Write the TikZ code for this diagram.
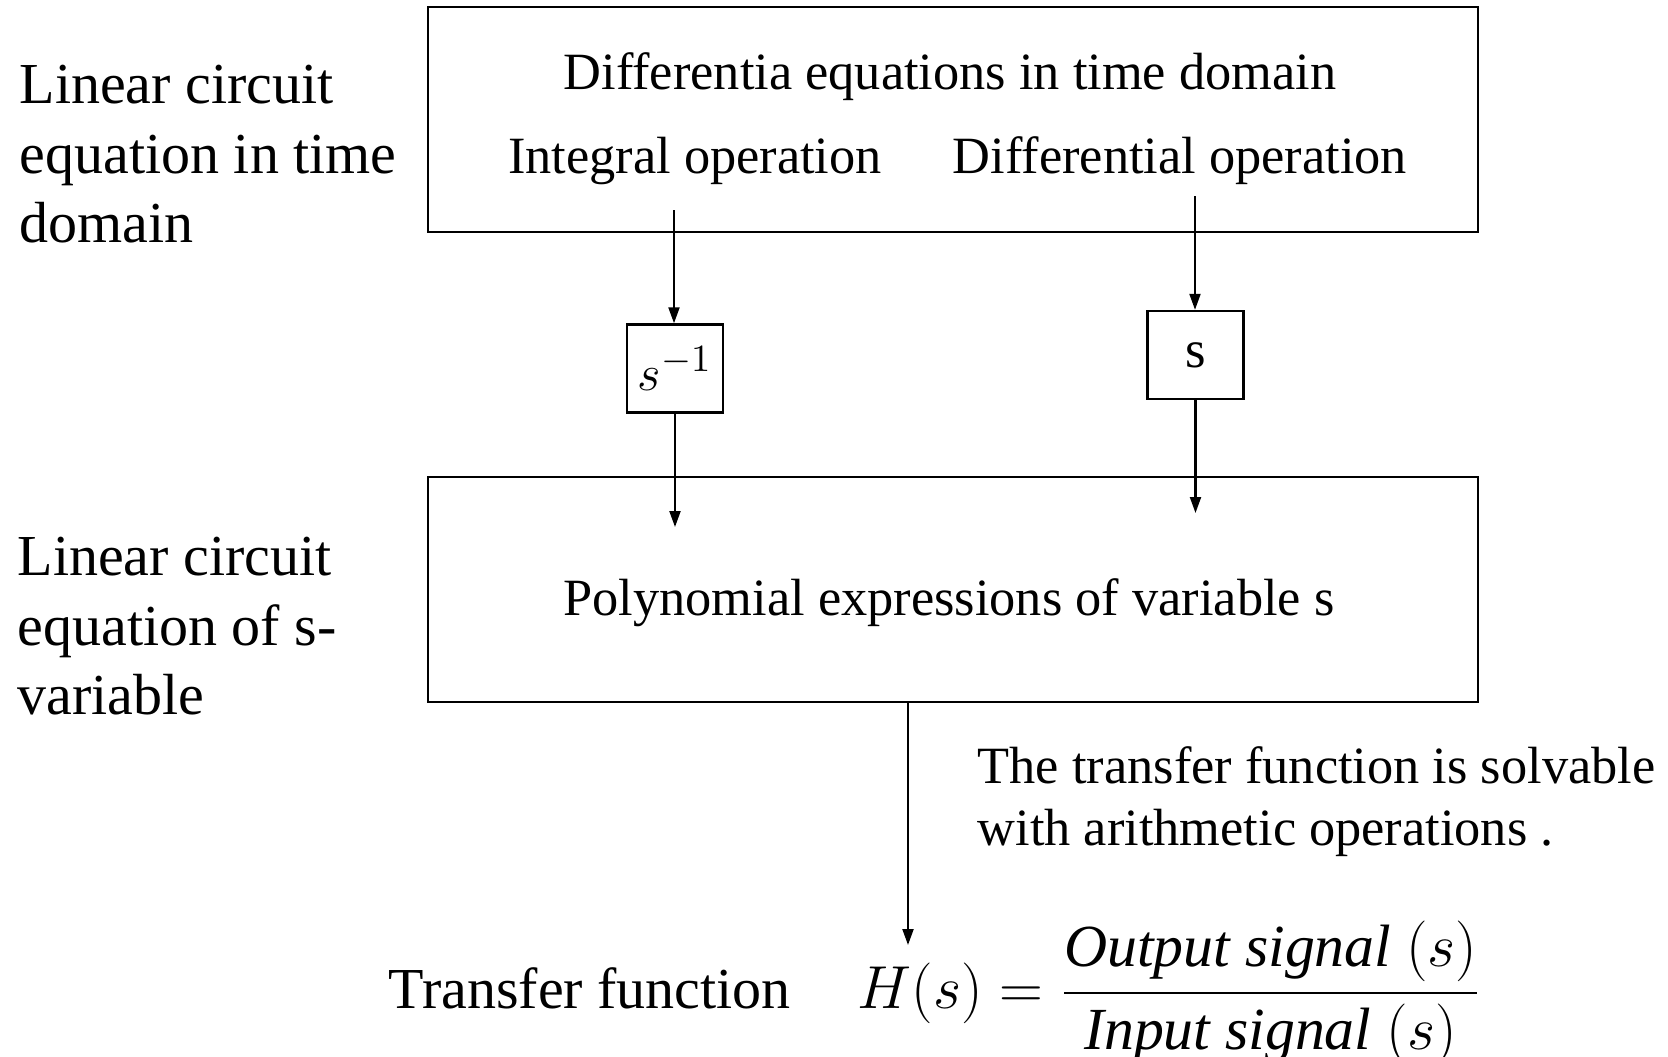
\documentclass[tikz,border=0pt]{standalone}
\usepackage{amsmath}
\usepackage{fontspec}
\setmainfont{Liberation Serif}
\usetikzlibrary{arrows.meta}
\newcommand{\widthstage}{10.5cm}
\newcommand{\heightstage}{2.25cm}
\newcommand{\widthop}{0.96cm}
\tikzset{
    common/.style={draw, rectangle, line width=0.7pt, inner sep=0pt},
    stage/.style={common, minimum width=\widthstage, minimum height=\heightstage},
    op/.style={common, minimum width=\widthop, minimum height=0.88cm, font=\fontsize{15}{18}\selectfont},
    boxtext/.style={anchor=base, inner sep=0pt, font=\fontsize{14.9}{18}\selectfont},
    sidetext/.style={anchor=north west, inner sep=0pt, align=left, font=\fontsize{16.5}{19.9}\selectfont},
    notetext/.style={anchor=north west, inner sep=0pt, align=left, font=\fontsize{14.9}{17.6}\selectfont},
    flow/.style={->, line width=0.6pt},
    >={Triangle[length=1.6mm, width=1.1mm]}
}

\begin{document}
\begin{tikzpicture}
    \useasboundingbox (0,0) rectangle (16.68,-10.56);

    \node[sidetext] (timelabel) at (0.19,-0.64) {Linear circuit\\equation in time\\domain};
    \node[sidetext] (slabel) at (0.17,-5.36) {Linear circuit\\equation of s-\\variable};

    \node[stage] (timebox) at (9.53,-1.195) {};
    \node[boxtext] (diffeq) at (9.50,-0.89) {Differentia equations in time domain};
    \node[boxtext] (intop) at (6.95,-1.73) {Integral operation};
    \node[boxtext] (diffop) at (11.80,-1.73) {Differential operation};

    \node[op] (sinv) at (6.75,-3.685) {$s^{-1}$};
    \node[op] (sop) at (11.955,-3.55) {s};

    \node[stage] (polybox) at (9.53,-5.895) {};
    \node[boxtext] (poly) at (9.49,-6.15) {Polynomial expressions of variable s};

    \node[notetext] (note) at (9.77,-7.46) {The transfer function is solvable\\with arithmetic operations .};

    \node[anchor=base west, inner sep=0pt, font=\fontsize{16.5}{19.9}\selectfont] (tf) at (3.88,-10.08) {Transfer function};
    \node[anchor=base west, inner sep=0pt, font=\fontsize{17}{20}\selectfont] (hs) at (8.57,-10.08)
        {$H(s)=\dfrac{\mathit{Output\ signal}\ (s)}{\mathit{Input\ signal}\ (s)}$};

    \coordinate (intstart) at (6.74,-2.10);
    \coordinate (diffstart) at (11.95,-1.96);
    \coordinate (intend) at (6.75,-5.27);
    \coordinate (diffend) at (11.955,-5.13);
    \coordinate (tfend) at (9.08,-9.45);

    \draw[flow] (intstart) -- (intstart |- sinv.north);
    \draw[flow] (diffstart) -- (diffstart |- sop.north);
    \draw[flow] (sinv.south) -- (intend);
    \draw[flow] (sop.south) -- (diffend);
    \draw[flow] (polybox.south -| tfend) -- (tfend);
\end{tikzpicture}
\end{document}
